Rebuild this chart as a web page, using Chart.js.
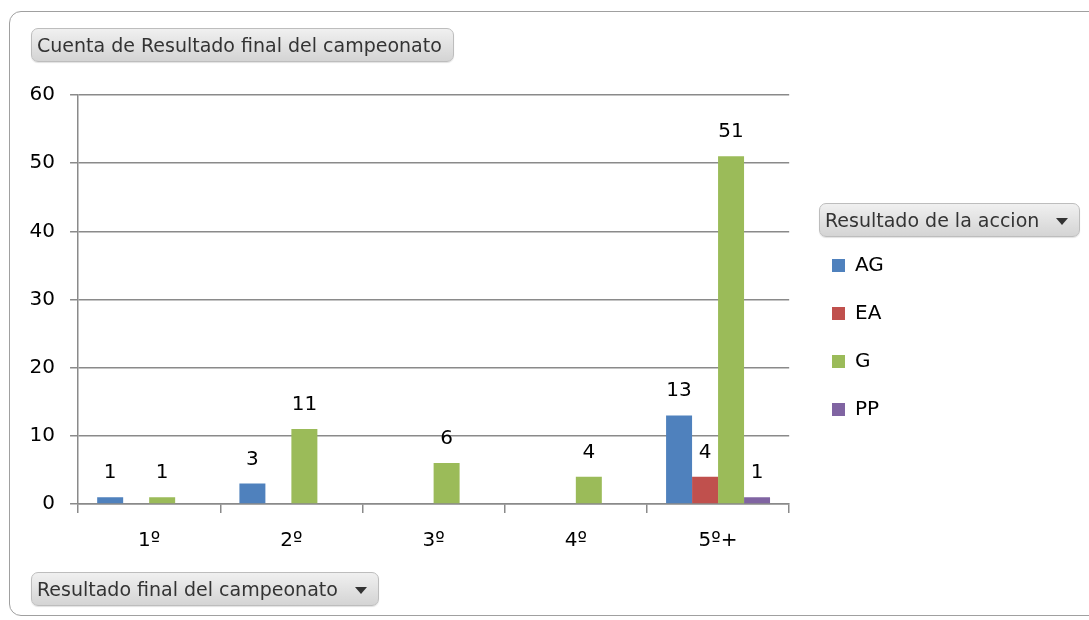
<!DOCTYPE html>
<html>
<head>
<meta charset="utf-8">
<script src="https://cdn.jsdelivr.net/npm/chart.js@4.4.0/dist/chart.umd.min.js"></script>
<style>
html, body { margin: 0; padding: 0; background: #fff; }
body { width: 1089px; height: 620px; position: relative; overflow: hidden; font-family: "DejaVu Sans", sans-serif; }
#frame { position: absolute; left: 9px; top: 11px; width: 1100px; height: 603px; border: 1px solid #a0a0a0; border-radius: 12px; }
#wrap { position: absolute; left: 0; top: 0; width: 1089px; height: 620px; }
.btn { position: absolute; height: 34px; line-height: 33px; border: 1px solid #bdbdbd; border-radius: 7px;
  background: linear-gradient(#f0f0f0, #d4d4d4); color: #333; font-size: 19px; padding: 0 5px; box-sizing: border-box; white-space: nowrap;
  box-shadow: 0 1px 1px rgba(0,0,0,0.12); }
.btn .arr { position: absolute; right: 11px; top: 14px; width: 0; height: 0; border-left: 6px solid transparent; border-right: 6px solid transparent; border-top: 7px solid #333; }
</style>
</head>
<body>
<div id="frame"></div>
<div id="wrap"><canvas id="grafico" width="1089" height="620"></canvas></div>
<div class="btn" style="left:31px; top:28px; width:423px;">Cuenta de Resultado final del campeonato</div>
<div class="btn" style="left:819px; top:203px; width:261px;">Resultado de la accion<span class="arr"></span></div>
<div class="btn" style="left:31px; top:572px; width:348px;">Resultado final del campeonato<span class="arr"></span></div>
<script>
//categorías y valores
var categorias = ["1º", "2º", "3º", "4º", "5º+"];
var serieAG = [1, 3, null, null, 13];
var serieEA = [null, null, null, null, 4];
var serieG = [1, 11, 6, 4, 51];
var seriePP = [null, null, null, null, 1];
var ticksY = [0, 10, 20, 30, 40, 50, 60];

//etiquetas encima de cada barra
var etiquetas = {
	id: 'etiquetas',
	afterDatasetsDraw: function (chart) {
		var ctx = chart.ctx;
		ctx.save();
		ctx.font = '20px "DejaVu Sans"';
		ctx.fillStyle = '#000';
		ctx.textAlign = 'center';
		ctx.textBaseline = 'alphabetic';
		chart.data.datasets.forEach(function (ds, i) {
			chart.getDatasetMeta(i).data.forEach(function (bar, j) {
				if (ds.data[j] == null) return;
				ctx.fillText(ds.data[j], bar.x, bar.y - 19);
			});
		});
		ctx.restore();
	}
};

//la leyenda se coloca a la derecha, junto al botón
var moverLeyenda = {
	id: 'moverLeyenda',
	afterLayout: function (chart) {
		var w = chart.legend.width;
		chart.legend.left = 832 - 28;
		chart.legend.right = chart.legend.left + w;
	}
};

var ctx = document.getElementById("grafico").getContext("2d");
var grafico = new Chart(ctx, {
	type: 'bar',
	data: {
		labels: categorias,
		datasets: [
			{ label: 'AG', data: serieAG, backgroundColor: '#4f81bd' },
			{ label: 'EA', data: serieEA, backgroundColor: '#c0504d' },
			{ label: 'G', data: serieG, backgroundColor: '#9bbb59' },
			{ label: 'PP', data: seriePP, backgroundColor: '#8064a2' }
		]
	},
	options: {
		responsive: false,
		animation: false,
		events: [],
		layout: { padding: { top: 95, left: 14.6, bottom: 51, right: 210 } },
		datasets: { bar: { categoryPercentage: 0.731, barPercentage: 1.0, skipNull: false } },
		plugins: {
			title: { display: false },
			tooltip: { enabled: false },
			legend: {
				position: 'right',
				align: 'start',
				labels: {
					boxWidth: 13, boxHeight: 13, padding: 28,
					color: '#000',
					font: { family: 'DejaVu Sans', size: 20 }
				},
				title: { display: true, text: '', padding: { top: 118, bottom: 0 } }
			}
		},
		scales: {
			x: {
				grid: { display: true, drawOnChartArea: false, drawTicks: true, tickLength: 9, color: '#8a8a8a', lineWidth: 1.5 },
				border: { color: '#8a8a8a', width: 1.5 },
				ticks: { color: '#000', font: { family: 'DejaVu Sans', size: 20 }, padding: 16 }
			},
			y: {
				min: 0, max: 60,
				afterBuildTicks: function (axis) { axis.ticks = ticksY.map(function (v) { return { value: v }; }); },
				grid: { color: '#8a8a8a', tickLength: 8, lineWidth: 1.5 },
				border: { color: '#8a8a8a', width: 1.5 },
				ticks: { color: '#000', font: { family: 'DejaVu Sans', size: 20 }, padding: 15 }
			}
		}
	},
	plugins: [etiquetas, moverLeyenda]
});
</script>
</body>
</html>
